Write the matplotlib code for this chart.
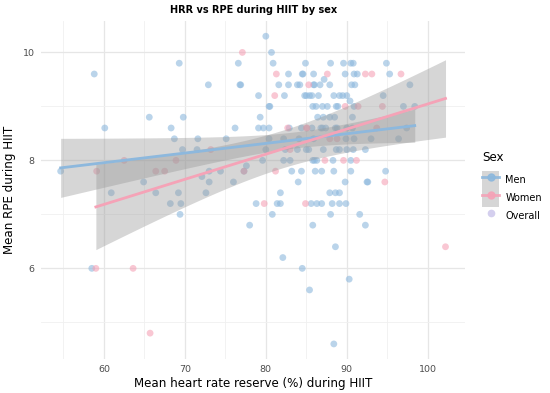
import numpy as np
import matplotlib
matplotlib.use("Agg")
import matplotlib.pyplot as plt
from matplotlib.lines import Line2D
from matplotlib.patches import Patch
from matplotlib.legend_handler import HandlerTuple

# --- data ---
men_hrr = [54.65, 58.8, 60.1, 60.9, 64.9, 65.6, 66.4, 68.3, 68.7, 69.2, 69.3, 69.7, 69.8,
           71.5, 71.6, 72.1, 72.6, 72.9, 73.0, 73.0, 74.4, 75.1, 76.0, 76.2, 76.6, 76.8,
           76.9, 77.3, 77.6, 68.2, 69.5, 69.4, 78.0, 58.5,
           80.0, 80.7,
           80.9, 84.9, 88.0, 89.6, 90.5, 90.8, 94.9,
           82.8, 84.5, 84.6, 85.9, 89.8, 90.9, 91.3, 95.3, 87.2,
           81.6, 82.8, 83.9, 84.2, 85.9, 86.0, 86.7, 87.9, 90.6, 91.0, 97.8,
           79.1, 82.3, 84.8, 85.0, 85.4, 85.7, 86.5, 88.4, 89.1, 89.5, 90.0, 94.5, 90.4,
           80.4, 80.5, 85.8, 86.2, 87.0, 87.6, 88.7, 88.9, 90.9, 97.0, 98.4,
           79.3, 86.4, 87.1, 87.9, 88.5, 90.7,
           79.1, 79.7, 80.4, 82.9, 84.4, 85.7, 86.8, 87.0, 87.4, 88.6, 88.8, 90.0, 90.7, 97.4,
           80.4, 82.2, 84.1, 85.9, 89.9, 90.9, 93.0, 96.4,
           80.0, 82.4, 83.9, 85.0, 85.3, 87.1, 88.7, 89.1, 90.0, 90.8, 92.3,
           79.6, 82.2, 83.0, 85.8, 86.0, 86.3, 88.3, 90.5,
           83.2, 84.4, 86.1, 86.9, 88.4, 90.5, 94.8,
           84.0, 89.8, 92.5, 92.6,
           81.8, 87.9, 88.6, 89.1,
           78.8, 81.4, 81.8, 85.6, 86.3, 86.9, 88.2, 89.1, 89.9,
           80.8, 88.0, 91.6,
           85.8, 92.3,
           88.6, 82.1, 84.5, 90.3, 85.4, 88.4]
men_rpe = [7.8, 9.6, 8.6, 7.4, 7.6, 8.8, 7.4, 8.6, 8.4, 7.4, 9.8, 8.2, 8.8,
           8.2, 8.4, 7.7, 7.4, 9.4, 7.6, 7.8, 7.8, 8.4, 7.6, 8.6, 9.8, 9.4,
           9.4, 7.8, 7.9, 7.2, 7.2, 7.0, 6.8, 6.0,
           10.3, 10.0,
           9.8, 9.8, 9.8, 9.8, 9.8, 9.8, 9.8,
           9.6, 9.6, 9.6, 9.6, 9.6, 9.6, 9.6, 9.6, 9.5,
           9.4, 9.4, 9.4, 9.4, 9.4, 9.4, 9.4, 9.4, 9.4, 9.4, 9.4,
           9.2, 9.2, 9.2, 9.2, 9.2, 9.2, 9.2, 9.2, 9.2, 9.2, 9.2, 9.2, 9.1,
           9.0, 9.0, 9.0, 9.0, 9.0, 9.0, 9.0, 9.0, 9.0, 9.0, 9.0,
           8.8, 8.8, 8.8, 8.8, 8.8, 8.8,
           8.6, 8.6, 8.6, 8.6, 8.6, 8.6, 8.6, 8.6, 8.6, 8.6, 8.6, 8.6, 8.6, 8.6,
           8.4, 8.4, 8.4, 8.4, 8.4, 8.4, 8.4, 8.4,
           8.2, 8.2, 8.2, 8.2, 8.2, 8.2, 8.2, 8.2, 8.2, 8.2, 8.2,
           8.0, 8.0, 8.0, 8.0, 8.0, 8.0, 8.0, 8.0,
           7.8, 7.8, 7.8, 7.8, 7.8, 7.8, 7.8,
           7.6, 7.6, 7.6, 7.6,
           7.4, 7.4, 7.4, 7.4,
           7.2, 7.2, 7.2, 7.2, 7.2, 7.2, 7.2, 7.2, 7.2,
           7.0, 7.0, 7.0,
           6.8, 6.8,
           6.4, 6.2, 6.0, 5.8, 5.6, 4.6]

women_hrr = [59.1, 62.5, 66.4, 67.5, 68.9, 73.2, 77.1, 77.3, 59.0, 63.6, 65.7,
             81.3, 87.6, 92.3, 93.1, 96.7, 85.3, 81.1, 89.8, 91.4, 94.4,
             82.7, 85.0, 85.1, 93.7, 87.9, 88.8, 83.0, 87.3, 89.6, 91.2,
             81.2, 94.7, 79.8, 84.9, 102.2]
women_rpe = [7.8, 8.0, 7.8, 7.8, 8.0, 8.2, 10.0, 7.8, 6.0, 6.0, 4.8,
             9.6, 9.6, 9.6, 9.6, 9.6, 9.4, 9.2, 9.0, 9.0, 9.0,
             8.6, 8.6, 8.6, 8.6, 8.4, 8.4, 8.2, 8.0, 8.0, 8.0,
             7.8, 7.6, 7.2, 7.2, 6.4]

blue = "#8db8dd"
pink = "#f5a3b7"
band = "#999999"


def lm_fit(x, y, n_grid=80):
    # straight line fit with 95% band, like geom_smooth(method = "lm")
    x = np.asarray(x, float)
    y = np.asarray(y, float)
    n = len(x)
    b1, b0 = np.polyfit(x, y, 1)
    resid = y - (b0 + b1 * x)
    s = np.sqrt(np.sum(resid ** 2) / (n - 2))
    sxx = np.sum((x - x.mean()) ** 2)
    t = 1.96 + 2.4 / (n - 2)
    xg = np.linspace(x.min(), x.max(), n_grid)
    yg = b0 + b1 * xg
    se = s * np.sqrt(1 / n + (xg - x.mean()) ** 2 / sxx)
    return xg, yg, yg - t * se, yg + t * se


fig = plt.figure(figsize=(5.5, 3.93), dpi=100)
ax = fig.add_axes([0.0753, 0.0857, 0.7697, 0.8613])

ax.scatter(men_hrr, men_rpe, s=24, color=blue, alpha=0.6, edgecolors="none", zorder=2)
ax.scatter(women_hrr, women_rpe, s=24, color=pink, alpha=0.6, edgecolors="none", zorder=2)

for xs, ys, col in [(men_hrr, men_rpe, blue), (women_hrr, women_rpe, pink)]:
    xg, yg, lo, hi = lm_fit(xs, ys)
    ax.fill_between(xg, lo, hi, color=band, alpha=0.4, linewidth=0, zorder=3)
    ax.plot(xg, yg, color=col, lw=2, zorder=4)

allx = men_hrr + women_hrr
ally = men_rpe + women_rpe
dx = (max(allx) - min(allx)) * 0.05
dy = (max(ally) - min(ally)) * 0.05
ax.set_xlim(min(allx) - dx, max(allx) + dx)
ax.set_ylim(min(ally) - dy, max(ally) + dy)

ax.set_xticks([60, 70, 80, 90, 100])
ax.set_xticks([55, 65, 75, 85, 95], minor=True)
ax.set_yticks([6, 8, 10])
ax.set_yticks([5, 7, 9], minor=True)
ax.grid(which="major", color="#e6e6e6", lw=0.9)
ax.grid(which="minor", color="#f0f0f0", lw=0.6)
ax.set_axisbelow(True)
for sp in ax.spines.values():
    sp.set_visible(False)
ax.tick_params(which="both", length=0, labelsize=6.8, labelcolor="#4d4d4d")
ax.tick_params(axis="x", pad=4)
ax.tick_params(axis="y", pad=5)

ax.set_xlabel("Mean heart rate reserve (%) during HIIT", fontsize=8.6, labelpad=2)
ax.set_ylabel("Mean RPE during HIIT", fontsize=8.6, labelpad=5)
ax.set_title("HRR vs RPE during HIIT by sex", fontsize=7, fontweight="bold", pad=5.5)

# legend (title drawn on its own so the gap under it matches)
fig.text(0.877, 1 - 158 / 393, "Sex", fontsize=8.6, va="center", ha="left")
key_bg = Patch(facecolor="#d6d6d6", edgecolor="none")
men_key = Line2D([], [], color=blue, lw=2, marker="o", markersize=5, alpha=0.9)
women_key = Line2D([], [], color=pink, lw=2, marker="o", markersize=5, alpha=0.9)
overall_key = Line2D([], [], color="#d4cfee", lw=0, marker="o", markersize=4.5)
leg = fig.legend([(key_bg, men_key), (key_bg, women_key), overall_key],
                 ["Men", "Women", "Overall"],
                 handler_map={tuple: HandlerTuple(ndivide=1, pad=0)},
                 loc="upper left", bbox_to_anchor=(0.877, 0.566), frameon=False,
                 fontsize=7, handlelength=1.75, handleheight=2.5,
                 labelspacing=0.0, handletextpad=0.6, borderaxespad=0, borderpad=0)

fig.savefig("out.png", dpi=100)
